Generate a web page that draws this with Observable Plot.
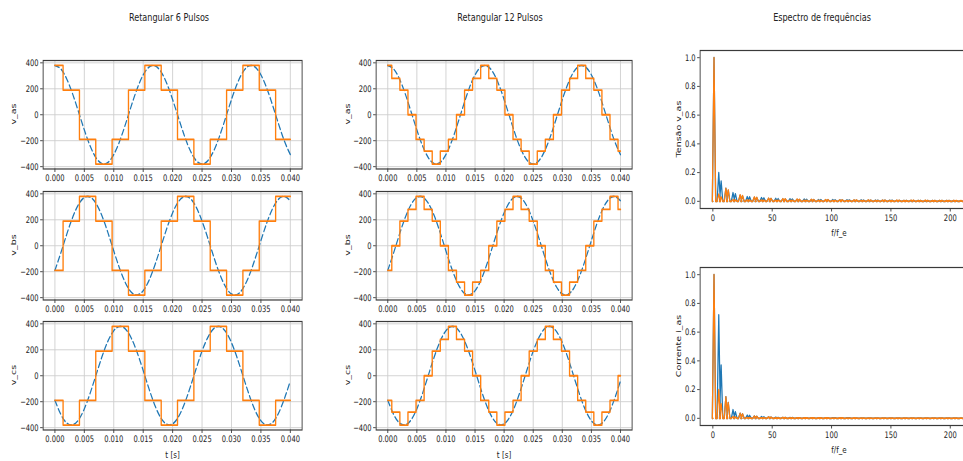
<!DOCTYPE html>
<html><head><meta charset="utf-8">
<script src="https://cdn.jsdelivr.net/npm/d3@7"></script>
<script src="https://cdn.jsdelivr.net/npm/@observablehq/plot@0.6"></script>
<style>
body{margin:0;background:#fff;}
#wrap{position:relative;width:963px;height:461px;overflow:hidden;background:#fff;}
#fig{position:absolute;left:0;top:0;width:1284px;height:461px;transform:scaleX(0.75);transform-origin:0 0;font-family:"DejaVu Sans",sans-serif;color:#222;}
</style></head><body><div id="wrap"><div id="fig"></div></div>
<script>
// ---------- data ----------
const titles = ["Retangular 6 Pulsos", "Retangular 12 Pulsos", "Espectro de frequências"];
const phaseLabels = ["v_as", "v_bs", "v_cs"];
const specLabels = ["Tensão v_as", "Corrente i_as"];
const tStart = 0, tEnd = 0.04;
const timeTicks = [0, 0.005, 0.010, 0.015, 0.020, 0.025, 0.030, 0.035, 0.040];
const voltTicks = [-400, -200, 0, 200, 400];
const freqTicks = [0, 50, 100, 150, 200];
const ampTicks = [0, 0.2, 0.4, 0.6, 0.8, 1.0];

const timeSamples = [0,0.001,0.002,0.003,0.004,0.005,0.006,0.007,0.008,0.009,0.010,0.011,0.012,0.013,0.014,0.015,0.016,0.017,0.018,0.019,0.020,0.021,0.022,0.023,0.024,0.025,0.026,0.027,0.028,0.029,0.030,0.031,0.032,0.033,0.034,0.035,0.036,0.037,0.038,0.039,0.040];
const sineA = [380,353,277,162,24,-117,-242,-333,-377,-368,-307,-204,-71,71,204,307,368,377,333,242,117,-24,-162,-277,-353,-380,-353,-277,-162,-24,117,242,333,377,368,307,204,71,-71,-204,-307];
const sineB = [-190,-56,87,217,317,372,375,325,230,102,-40,-176,-288,-359,-380,-347,-266,-147,-8,132,254,340,379,364,298,190,56,-87,-217,-317,-372,-375,-325,-230,-102,40,176,288,359,380,347];
const sineC = [-190,-297,-364,-379,-341,-255,-133,8,147,266,347,380,359,288,176,40,-102,-230,-325,-374,-371,-316,-217,-87,55,190,297,364,379,341,255,133,-8,-147,-266,-347,-380,-359,-288,-176,-40];

const edges6 = [0.00139,0.00417,0.00694,0.00972,0.0125,0.01528,0.01806,0.02083,0.02361,0.02639,0.02917,0.03194,0.03472,0.0375];
const steps6A = [380,190,-190,-380,-190,190,380,190,-190,-380,-190,190,380,190,-190];
const steps6B = [-190,190,380,190,-190,-380,-190,190,380,190,-190,-380,-190,190,380];
const steps6C = [-190,-380,-190,190,380,190,-190,-380,-190,190,380,190,-190,-380,-190];

const edges12 = [0.00069,0.00208,0.00347,0.00486,0.00625,0.00764,0.00903,0.01042,0.01181,0.0132,0.01458,0.01597,0.01736,0.01875,0.02014,0.02153,0.02292,0.02431,0.0257,0.02708,0.02847,0.02986,0.03125,0.03264,0.03403,0.03542,0.03681,0.0382,0.03958];
const steps12A = [380,280,190,0,-190,-280,-380,-280,-190,0,190,280,380,280,190,0,-190,-280,-380,-280,-190,0,190,280,380,280,190,0,-190,-280];
const steps12B = [-190,0,190,280,380,280,190,0,-190,-280,-380,-280,-190,0,190,280,380,280,190,0,-190,-280,-380,-280,-190,0,190,280,380,280];
const steps12C = [-190,-280,-380,-280,-190,0,190,280,380,280,190,0,-190,-280,-380,-280,-190,0,190,280,380,280,190,0,-190,-280,-380,-280,-190,0];

const harmonics = [1,5,7,11,13,17,19,23,25,29,31,35,37,41,43,47,49,53,55,59,61,65,67,71,73,77,79,83,85,89,91,95,97,101,103,107,109,113,115,119,121,125,127,131,133,137,139,143,145,149,151,155,157,161,163,167,169,173,175,179,181,185,187,191,193,197,199,203,205,209];
const specV6 = [1.0,0.20,0.14,0.09,0.075,0.06,0.052,0.042,0.038,0.032,0.03,0.027,0.025,0.025,0.023,0.02,0.019,0.02,0.018,0.016,0.015,0.017,0.015,0.013,0.012,0.015,0.013,0.011,0.011,0.012,0.011,0.01,0.01,0.011,0.01,0.009,0.009,0.01,0.009,0.008,0.008,0.009,0.008,0.008,0.007,0.008,0.007,0.007,0.007,0.007,0.007,0.006,0.006,0.006,0.006,0.006,0.006,0.006,0.005,0.005,0.005,0.005,0.005,0.005,0.005,0.005,0.005,0.005,0.004,0.004];
const specV12 = [1.0,0.05,0.03,0.09,0.08,0.012,0.01,0.045,0.04,0.01,0.009,0.03,0.028,0.009,0.008,0.022,0.02,0.008,0.008,0.018,0.017,0.008,0.007,0.015,0.014,0.007,0.007,0.013,0.012,0.007,0.006,0.011,0.011,0.006,0.006,0.01,0.01,0.006,0.006,0.009,0.009,0.006,0.006,0.009,0.008,0.006,0.006,0.008,0.008,0.006,0.005,0.008,0.007,0.005,0.005,0.007,0.007,0.005,0.005,0.007,0.006,0.005,0.005,0.006,0.006,0.005,0.005,0.006,0.006,0.005];
const specI6 = [1.0,0.72,0.37,0.15,0.11,0.06,0.045,0.035,0.03,0.022,0.02,0.015,0.014,0.012,0.01,0.009,0.008,0.007,0.006,0.006,0.005,0.005,0.005,0.004,0.004,0.004,0.004,0.004,0.003,0.003,0.003,0.003,0.003,0.003,0.003,0.003,0.003,0.003,0.003,0.002,0.002,0.002,0.002,0.002,0.002,0.002,0.002,0.002,0.002,0.002,0.002,0.002,0.002,0.002,0.002,0.002,0.002,0.002,0.002,0.002,0.002,0.002,0.002,0.002,0.002,0.002,0.002,0.002,0.002,0.002];
const specI12 = [1.0,0.20,0.10,0.15,0.11,0.012,0.01,0.035,0.03,0.006,0.005,0.015,0.014,0.004,0.004,0.009,0.008,0.003,0.003,0.006,0.005,0.003,0.003,0.004,0.004,0.003,0.003,0.004,0.003,0.003,0.003,0.003,0.003,0.002,0.002,0.003,0.003,0.002,0.002,0.003,0.002,0.002,0.002,0.002,0.002,0.002,0.002,0.002,0.002,0.002,0.002,0.002,0.002,0.002,0.002,0.002,0.002,0.002,0.002,0.002,0.002,0.002,0.002,0.002,0.002,0.002,0.002,0.002,0.002,0.002];

// ---------- layout ----------
const S = 0.75; // horizontal squeeze of the whole figure
const BLUE = "#1f77b4", ORANGE = "#ff7f0e";
const fig = document.getElementById("fig");
const M = {l: 60, r: 12, t: 6, b: 26};
const SPIKE_HALF = 1.4;
const baseStyle = {fontSize: "9px", fontFamily: "DejaVu Sans, sans-serif", color: "#222", background: "transparent", overflow: "visible"};

function addText(txt, x, y, size, rotate) {
  const d = document.createElement("div");
  d.textContent = txt;
  d.style.cssText = `position:absolute;left:${x / S}px;top:${y}px;font-size:${size}px;white-space:nowrap;line-height:1;transform:translate(-50%,-50%)${rotate ? " rotate(-90deg)" : ""};`;
  fig.appendChild(d);
}
function place(svg, f) {
  svg.style.position = "absolute";
  svg.style.left = (f.x0 / S - M.l) + "px";
  svg.style.top = (f.y0 - M.t) + "px";
  fig.appendChild(svg);
}

function timePanel(f, sine, edges, levels) {
  const stepData = levels.map((v, i) => ({t: i === 0 ? tStart : edges[i - 1], v}));
  stepData.push({t: tEnd, v: levels[levels.length - 1]});
  const sineData = timeSamples.map((t, i) => ({t, v: sine[i]}));
  const w = (f.x1 - f.x0) / S, h = f.y1 - f.y0;
  const svg = Plot.plot({
    width: w + M.l + M.r, height: h + M.t + M.b,
    marginLeft: M.l, marginRight: M.r, marginTop: M.t, marginBottom: M.b,
    x: {domain: [-0.002, 0.042]},
    y: {domain: [-418, 418]},
    style: baseStyle,
    marks: [
      Plot.gridX(timeTicks, {stroke: "#cccccc", strokeOpacity: 1, strokeWidth: 1}),
      Plot.gridY(voltTicks, {stroke: "#cccccc", strokeOpacity: 1, strokeWidth: 1}),
      Plot.line(sineData, {x: "t", y: "v", stroke: BLUE, strokeWidth: 1.6, strokeDasharray: "6,3.5", curve: "natural"}),
      Plot.line(stepData, {x: "t", y: "v", stroke: ORANGE, strokeWidth: 1.8, curve: "step-after"}),
      Plot.axisX(timeTicks, {tickFormat: d3.format(".3f"), tickSize: 3.5, tickPadding: 2.5, label: null, stroke: "#333"}),
      Plot.axisY(voltTicks, {tickFormat: d3.format("d"), tickSize: 3.5, tickPadding: 2.5, label: null, stroke: "#333"}),
      Plot.frame({stroke: "#3a3a3a", strokeWidth: 1.2})
    ]
  });
  place(svg, f);
}

function spikes(amps) {
  const pts = [{f: 0, a: 0}];
  harmonics.forEach((hm, i) => {
    pts.push({f: hm - SPIKE_HALF, a: 0}, {f: hm, a: amps[i]}, {f: hm + SPIKE_HALF, a: 0});
  });
  return pts;
}

function specPanel(f, blueAmps, orangeAmps) {
  const w = (f.x1 - f.x0) / S, h = f.y1 - f.y0;
  const svg = Plot.plot({
    width: w + M.l + M.r, height: h + M.t + M.b,
    marginLeft: M.l, marginRight: M.r, marginTop: M.t, marginBottom: M.b,
    x: {domain: [-10.7, 224.3]},
    y: {domain: [-0.05, 1.05]},
    style: baseStyle,
    marks: [
      Plot.line(spikes(blueAmps), {x: "f", y: "a", stroke: BLUE, strokeWidth: 1.7, clip: true}),
      Plot.line(spikes(orangeAmps), {x: "f", y: "a", stroke: ORANGE, strokeWidth: 1.7, clip: true}),
      Plot.axisX(freqTicks, {tickFormat: d3.format("d"), tickSize: 3.5, tickPadding: 2.5, label: null, stroke: "#333"}),
      Plot.axisY(ampTicks, {tickFormat: d3.format(".1f"), tickSize: 3.5, tickPadding: 2.5, label: null, stroke: "#333"}),
      Plot.frame({stroke: "#3a3a3a", strokeWidth: 1.2})
    ]
  });
  place(svg, f);
}

const rowsY = [[60, 168.5], [190.5, 299], [321, 429.5]];
const col1 = [43, 302], col2 = [376, 632];
const sines = [sineA, sineB, sineC];
const s6 = [steps6A, steps6B, steps6C];
const s12 = [steps12A, steps12B, steps12C];

rowsY.forEach(([y0, y1], r) => {
  timePanel({x0: col1[0], x1: col1[1], y0, y1}, sines[r], edges6, s6[r]);
  timePanel({x0: col2[0], x1: col2[1], y0, y1}, sines[r], edges12, s12[r]);
  addText(phaseLabels[r], 13.5, (y0 + y1) / 2, 9.5, true);
  addText(phaseLabels[r], 347, (y0 + y1) / 2, 9.5, true);
});
addText("t [s]", (col1[0] + col1[1]) / 2, 455, 9.5);
addText("t [s]", (col2[0] + col2[1]) / 2, 455, 9.5);

const specRows = [[50, 208], [266.5, 424.5]];
specPanel({x0: 700, x1: 979, y0: specRows[0][0], y1: specRows[0][1]}, specV6, specV12);
specPanel({x0: 700, x1: 979, y0: specRows[1][0], y1: specRows[1][1]}, specI6, specI12);
addText(specLabels[0], 679, (specRows[0][0] + specRows[0][1]) / 2, 9.5, true);
addText(specLabels[1], 679, (specRows[1][0] + specRows[1][1]) / 2, 9.5, true);
addText("f/f_e", 839, 233, 9.5);
addText("f/f_e", 839, 450, 9.5);

addText(titles[0], 169, 18, 10.8);
addText(titles[1], 500, 18, 10.8);
addText(titles[2], 822, 18, 10.8);
</script>
</body></html>
